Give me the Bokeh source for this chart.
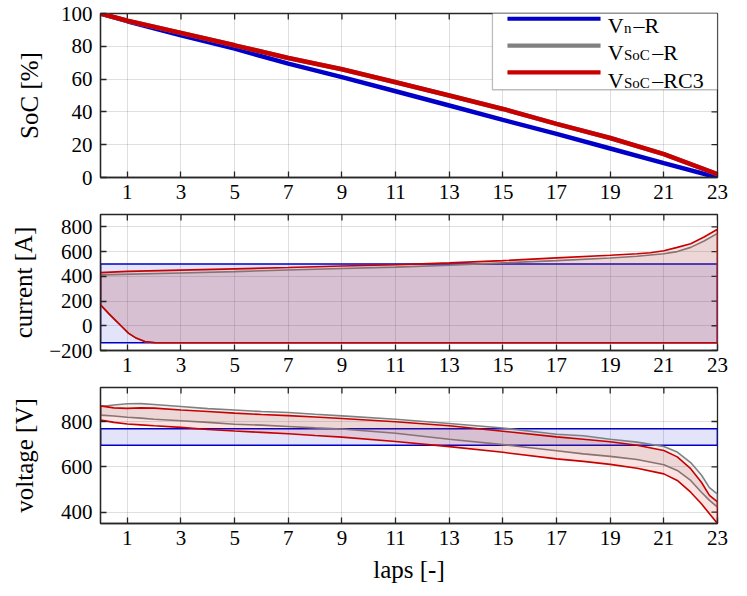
from bokeh.plotting import figure
from bokeh.models import Range1d, FixedTicker, BoxAnnotation, Label
from bokeh.layouts import column
from bokeh.embed import file_html
from bokeh.resources import INLINE

# ---------------- data ----------------
lap_ticks = [1, 3, 5, 7, 9, 11, 13, 15, 17, 19, 21, 23]
soc_ticks = [0, 20, 40, 60, 80, 100]
cur_ticks = [-200, 0, 200, 400, 600, 800]
volt_ticks = [400, 600, 800]

# SoC [%]
soc_x = [0, 1, 3, 5, 7, 9, 11, 13, 15, 17, 19, 21, 23]
soc_vn_r = [100, 95.3, 86.7, 78.6, 69.4, 61.2, 52.6, 43.9, 35.1, 26.6, 17.7, 8.8, 0]
soc_vsoc_r = [100, 95.6, 88.2, 80.6, 72.9, 66.0, 58.1, 50.0, 41.8, 32.7, 24.1, 14.3, 2.0]
soc_vsoc_rc3 = [100, 95.6, 88.2, 80.6, 72.9, 66.0, 58.1, 50.0, 41.8, 32.7, 24.1, 14.3, 2.0]

# current [A]  (envelopes: min / max)
cur_vn_r_x = [0, 23]
cur_vn_r_lo = [-137, -137]
cur_vn_r_hi = [500, 500]

cur_vsoc_r_hi_x = [0, 3, 5, 7, 9, 11, 13, 15, 17, 19, 20, 21, 21.5, 22, 22.5, 23]
cur_vsoc_r_hi = [412, 427, 438, 451, 463, 474, 490, 509, 527, 548, 562, 582, 600, 634, 686, 747]
cur_vsoc_r_lo_x = [0, 0.3, 0.55, 0.8, 1.05, 1.3, 1.65, 2.05, 3, 23]
cur_vsoc_r_lo = [170, 100, 46, -8, -61, -96, -128, -137, -137, -137]

cur_rc3_hi_x = [0, 1, 3, 5, 7, 9, 11, 13, 15, 17, 19, 20, 20.5, 21, 21.5, 22, 22.5, 23]
cur_rc3_hi = [430, 440, 450, 460, 471, 484, 494, 509, 527, 549, 570, 583, 591, 607, 634, 664, 718, 781]
cur_rc3_lo_x = [0, 0.3, 0.55, 0.8, 1.05, 1.3, 1.65, 2.05, 3, 23]
cur_rc3_lo = [170, 100, 46, -8, -61, -96, -128, -137, -137, -137]

# voltage [V]  (envelopes: min / max)
volt_vn_r_x = [0, 23]
volt_vn_r_lo = [695, 695]
volt_vn_r_hi = [768, 768]

volt_x = [0, 0.5, 1, 1.5, 2, 3, 4, 5, 6, 7, 8, 9, 11, 13, 15, 17, 18, 19, 20, 21, 21.5, 22, 22.4, 22.7, 23]
volt_vsoc_r_hi = [866, 873, 878, 879, 875, 866, 857, 851, 844, 840, 832, 825, 810, 791, 771, 744, 737, 722, 709, 690, 665, 619, 564, 508, 480]
volt_vsoc_r_lo = [828, 824, 819, 815, 810, 803, 796, 788, 784, 778, 772, 767, 748, 722, 698, 671, 657, 646, 632, 609, 584, 540, 488, 452, 422]
volt_rc3_hi = [869, 860, 858, 860, 859, 851, 844, 837, 831, 826, 820, 813, 799, 781, 757, 732, 722, 711, 695, 672, 644, 592, 532, 474, 445]
volt_rc3_lo = [806, 796, 789, 785, 781, 774, 765, 758, 752, 746, 738, 731, 712, 689, 664, 635, 624, 611, 594, 569, 540, 488, 437, 393, 350]

# ---------------- style ----------------
BLUE = "#0000c8"
GRAY = "#808080"
RED = "#c80000"
AX = "#262626"
FONT = "Liberation Serif"
FILL_A = 0.11
FW = 617
TICK = 6


def make_fig(yr, yticks, ylabel, ylab_standoff, fh, top, bottom, xlabel=None):
    p = figure(frame_width=FW, frame_height=fh,
               x_range=Range1d(0, 23), y_range=Range1d(*yr),
               output_backend="svg", toolbar_location=None,
               min_border_left=100, min_border_right=20,
               min_border_top=top, min_border_bottom=bottom)
    p.background_fill_color = "white"
    p.border_fill_color = "white"
    p.outline_line_color = AX
    p.outline_line_width = 1.3
    p.xaxis.ticker = FixedTicker(ticks=lap_ticks)
    p.yaxis.ticker = FixedTicker(ticks=yticks)
    p.xgrid.ticker = FixedTicker(ticks=lap_ticks)
    p.ygrid.ticker = FixedTicker(ticks=yticks)
    p.grid.grid_line_color = AX
    p.grid.grid_line_alpha = 0.15
    p.grid.grid_line_width = 1
    for ax in (p.xaxis[0], p.yaxis[0]):
        ax.axis_line_color = AX
        ax.axis_line_width = 1.3
        ax.major_tick_line_color = AX
        ax.major_tick_line_width = 1.3
        ax.major_tick_in = TICK
        ax.major_tick_out = 0
        ax.minor_tick_line_color = None
        ax.major_label_text_font = FONT
        ax.major_label_text_font_size = "21px"
        ax.major_label_text_color = "black"
        ax.axis_label_text_font = FONT
        ax.axis_label_text_font_size = "25px"
        ax.axis_label_text_font_style = "normal"
        ax.axis_label_text_color = "black"
    p.xaxis.major_label_standoff = 7
    p.yaxis.major_label_standoff = 8
    p.yaxis.axis_label = ylabel
    p.yaxis.axis_label_standoff = ylab_standoff
    if xlabel:
        p.xaxis.axis_label = xlabel
        p.xaxis.axis_label_standoff = 8
    # mirrored inward ticks on the top and right edges of the box
    y0, y1 = yr
    dy = (y1 - y0) * TICK / fh
    dx = 23 * TICK / FW
    p.segment(x0=lap_ticks, x1=lap_ticks, y0=[y1] * len(lap_ticks),
              y1=[y1 - dy] * len(lap_ticks), line_color=AX, line_width=1.3)
    p.segment(x0=[23] * len(yticks), x1=[23 - dx] * len(yticks), y0=yticks,
              y1=yticks, line_color=AX, line_width=1.3)
    return p


def band(p, xh, yh, xl, yl, color):
    xs = list(xh) + list(xl)[::-1]
    ys = list(yh) + list(yl)[::-1]
    p.patch(xs, ys, fill_color=color, fill_alpha=FILL_A,
            line_color=color, line_width=1.6)


# ---------------- SoC ----------------
p1 = make_fig((0, 100), soc_ticks, "SoC [%]", 15, 164, 13, 32)
p1.line(soc_x, soc_vn_r, line_color=BLUE, line_width=4.5)
p1.line(soc_x, soc_vsoc_r, line_color=GRAY, line_width=4.5)
p1.line(soc_x, soc_vsoc_rc3, line_color=RED, line_width=4.5)

# legend (drawn manually for the subscripts)
p1.add_layout(BoxAnnotation(left=14.61, right=23, top=106.7, bottom=53.5,
                            fill_color="white", fill_alpha=1,
                            line_color=AX, line_width=1.3))
rows_y = [96.76, 80.4, 64.1]
for yy, col in zip(rows_y, [BLUE, GRAY, RED]):
    p1.add_layout(BoxAnnotation(left=15.17, right=18.64, top=yy + 1.25, bottom=yy - 1.25,
                                fill_color=col, fill_alpha=1, line_alpha=0))
leg_texts = [("V", "n", "–R", 19.87), ("V", "SoC", "–R", 20.57), ("V", "SoC", "–RC3", 20.57)]
base_y = [92.5, 75.95, 59.4]
for (main, sub, tail, tx), by in zip(leg_texts, base_y):
    p1.add_layout(Label(x=18.91, y=by, text=main, text_font=FONT, text_font_size="22px",
                        text_baseline="alphabetic", text_color="black"))
    p1.add_layout(Label(x=19.51, y=by - 1.5, text=sub, text_font=FONT, text_font_size="15px",
                        text_baseline="alphabetic", text_color="black"))
    p1.add_layout(Label(x=tx, y=by, text=tail, text_font=FONT, text_font_size="22px",
                        text_baseline="alphabetic", text_color="black"))

# ---------------- current ----------------
p2 = make_fig((-200, 900), cur_ticks, "current [A]", 9, 136, 5, 32)
band(p2, cur_vn_r_x, cur_vn_r_hi, cur_vn_r_x, cur_vn_r_lo, BLUE)
band(p2, cur_vsoc_r_hi_x, cur_vsoc_r_hi, cur_vsoc_r_lo_x, cur_vsoc_r_lo, GRAY)
band(p2, cur_rc3_hi_x, cur_rc3_hi, cur_rc3_lo_x, cur_rc3_lo, RED)

# ---------------- voltage ----------------
p3 = make_fig((350, 950), volt_ticks, "voltage [V]", 20, 136, 5, 64, xlabel="laps [-]")
band(p3, volt_vn_r_x, volt_vn_r_hi, volt_vn_r_x, volt_vn_r_lo, BLUE)
band(p3, volt_x, volt_vsoc_r_hi, volt_x, volt_vsoc_r_lo, GRAY)
band(p3, volt_x, volt_rc3_hi, volt_x, volt_rc3_lo, RED)

layout = column(p1, p2, p3, spacing=0)
open("out.html", "w").write(file_html(layout, INLINE))
